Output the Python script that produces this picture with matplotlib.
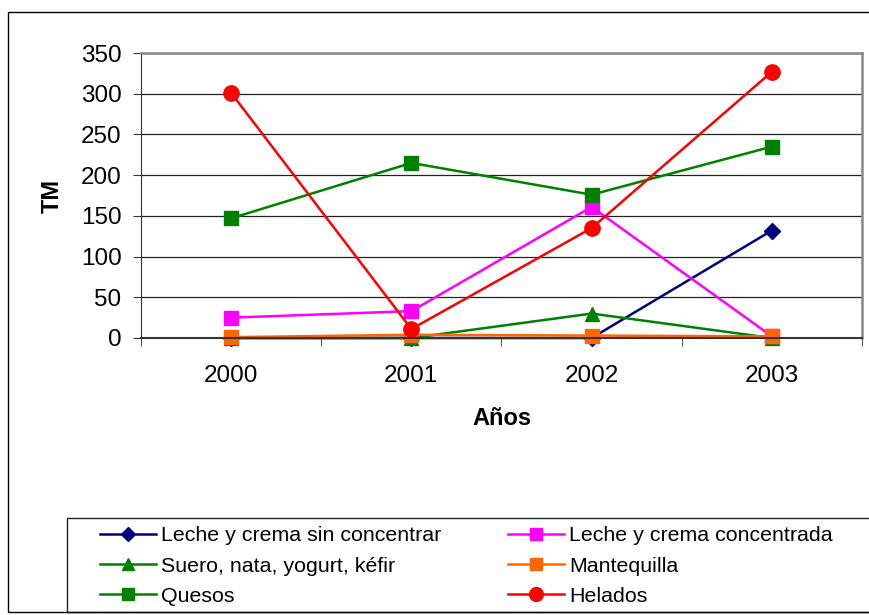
import matplotlib
matplotlib.use("Agg")
import matplotlib.pyplot as plt
from matplotlib.patches import Rectangle

plt.rcParams['font.family'] = ['Liberation Sans', 'DejaVu Sans']

years = ["2000", "2001", "2002", "2003"]
leche_sin = [0, 0, 0, 132]
leche_conc = [25, 33, 161, 2]
suero = [0, 0, 30, 0]
mantequilla = [1, 4, 3, 2]
quesos = [147, 215, 176, 235]
helados = [301, 11, 135, 327]

series = [
    ("Leche y crema sin concentrar", leche_sin, "#000080", "D", 8),
    ("Leche y crema concentrada", leche_conc, "#FF00FF", "s", 10),
    ("Suero, nata, yogurt, kéfir", suero, "#008000", "^", 10),
    ("Mantequilla", mantequilla, "#FF6600", "s", 10),
    ("Quesos", quesos, "#008000", "s", 10),
    ("Helados", helados, "#FF0000", "o", 11),
]

fig = plt.figure(figsize=(8.7, 6.15), dpi=100)
W, H = 870, 615
ax = fig.add_axes([141 / W, 1 - 338 / H, 721 / W, 285 / H])

x = list(range(len(years)))
handles = {}
for name, vals, col, mk, ms in series:
    h, = ax.plot(x, vals, color=col, marker=mk, markersize=ms, lw=1.8,
                 markeredgecolor=col, label=name, clip_on=False)
    handles[name] = h

ax.set_xlim(-0.5, 3.5)
ax.set_ylim(0, 350)
ax.set_yticks(range(0, 351, 50))
ax.set_xticks(x)
ax.set_xticklabels(years)
ax.set_xticks([-0.5, 0.5, 1.5, 2.5, 3.5], minor=True)
ax.tick_params(axis='x', which='major', length=0, pad=19.5, labelsize=17.5)
ax.tick_params(axis='x', which='minor', length=6, color='#333333')
ax.tick_params(axis='y', length=5.5, labelsize=17.5, pad=8.5, color='#333333')
ax.yaxis.grid(True, color='#222222', lw=0.9)
ax.set_axisbelow(True)
for s in ['top', 'right']:
    ax.spines[s].set_color('#888888')
    ax.spines[s].set_linewidth(1.8)
ax.spines['left'].set_color('#333333')
ax.spines['bottom'].set_color('#333333')
ax.spines['bottom'].set_linewidth(1.5)

ax.set_xlabel("Años", fontsize=17, fontweight='bold', labelpad=14)
ax.set_ylabel("TM", fontsize=17, fontweight='bold', labelpad=12)

legfs = 15.4
col1 = ["Leche y crema sin concentrar", "Suero, nata, yogurt, kéfir", "Quesos"]
col2 = ["Leche y crema concentrada", "Mantequilla", "Helados"]
common = dict(loc='center left', fontsize=legfs, frameon=False,
              handlelength=2.6, handletextpad=0.25, labelspacing=0.52,
              borderpad=0, borderaxespad=0, markerscale=0.9)
leg1 = fig.legend([handles[n] for n in col1], col1,
                  bbox_to_anchor=(100 / W, 1 - 566 / H), **common)
leg2 = fig.legend([handles[n] for n in col2], col2,
                  bbox_to_anchor=(508 / W, 1 - 566 / H), **common)

# legend frame
fig.patches.append(Rectangle((67 / W, 1 - 612 / H), 805 / W, 94 / H,
                             transform=fig.transFigure, fill=False,
                             edgecolor='#222222', lw=1))
# outer chart border
fig.patches.append(Rectangle((8 / W, 1 - 612 / H), 863 / W, 600 / H,
                             transform=fig.transFigure, fill=False,
                             edgecolor='black', lw=1))

fig.savefig("out.png", dpi=100)
